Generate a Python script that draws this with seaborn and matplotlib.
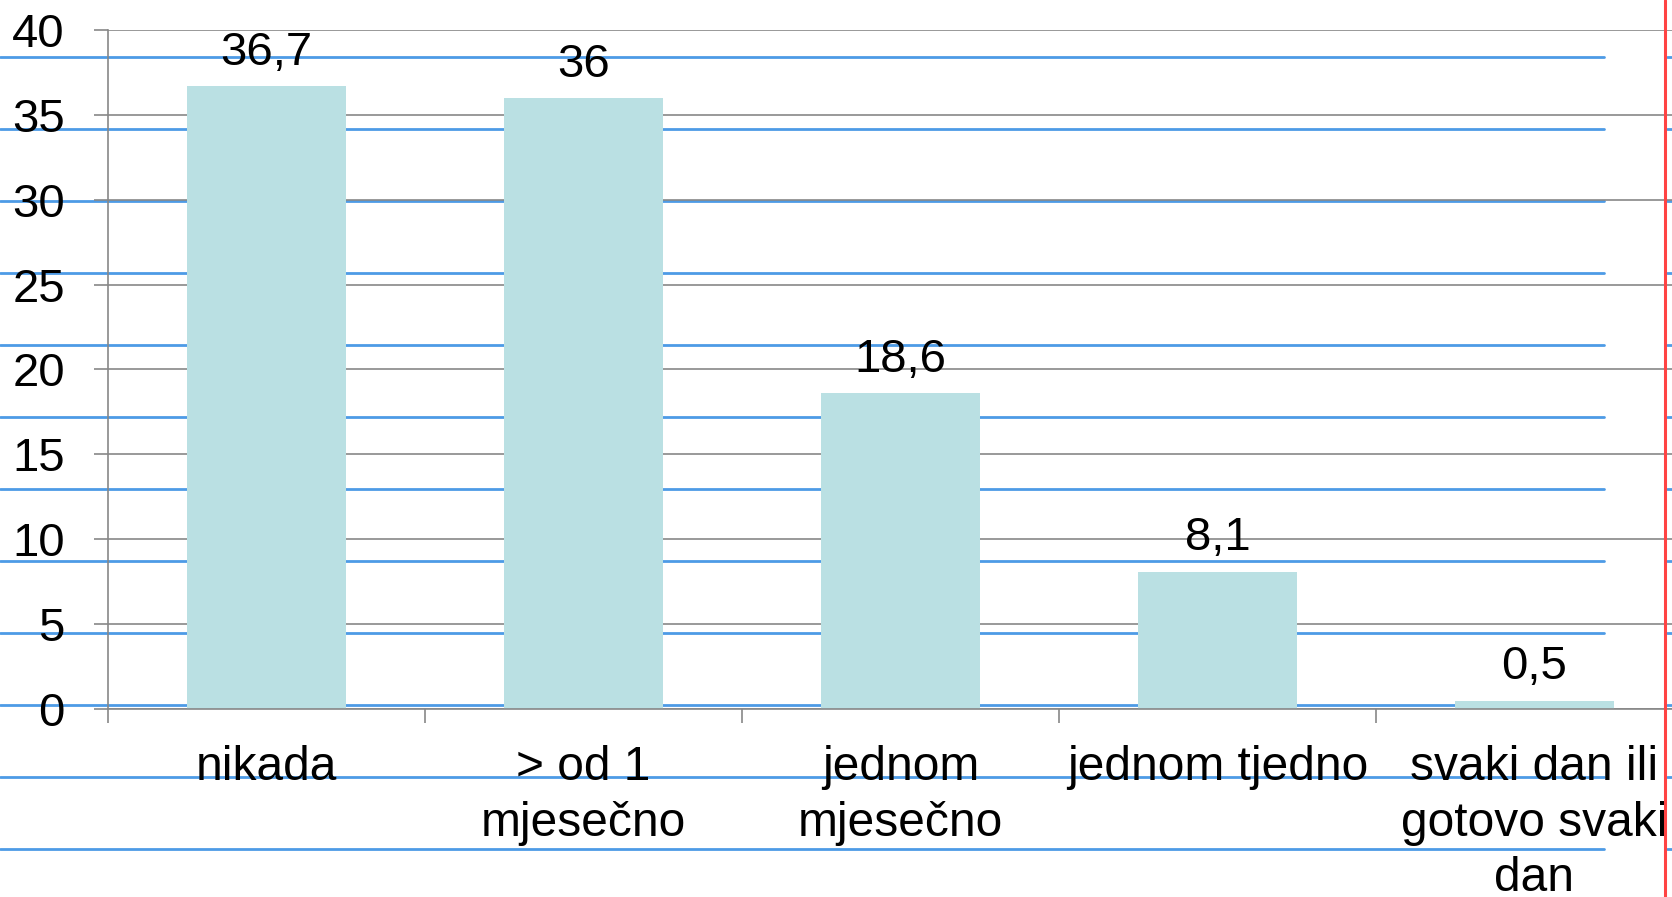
import matplotlib
matplotlib.use("Agg")
import matplotlib.pyplot as plt
import seaborn as sns
import pandas as pd
from matplotlib.lines import Line2D

# podaci
kategorije = ['nikada', '> od 1\nmjesečno', 'jednom\nmjesečno', 'jednom tjedno',
              'svaki dan ili\ngotovo svaki\ndan']
postotci = [36.7, 36, 18.6, 8.1, 0.5]
y_ticks = [0, 5, 10, 15, 20, 25, 30, 35, 40]

df = pd.DataFrame({'kategorija': kategorije, 'postotak': postotci})

sns.set_style("white")
plt.rcParams['font.family'] = ['Liberation Sans', 'DejaVu Sans']

# boje
bar_color = '#bae0e3'
grid_color = '#878787'
blue = '#4d9be6'
red = '#ff4343'

W, H = 1672, 897
fig = plt.figure(figsize=(W / 100, H / 100), dpi=100)
fig.patch.set_facecolor('white')

# "bilježnica" - plave linije i crvena margina u pozadini
for k in range(12):
    y = 1 - (57 + 72 * k) / H
    fig.add_artist(Line2D([0, 1604 / W], [y, y], color=blue, lw=2.0, zorder=-1,
                          transform=fig.transFigure))
    fig.add_artist(Line2D([1667 / W, 1], [y, y], color=blue, lw=2.0, zorder=-1,
                          transform=fig.transFigure))
fig.add_artist(Line2D([1664.5 / W, 1664.5 / W], [0, 1], color=red, lw=2.2, zorder=5,
                      transform=fig.transFigure))

ax = fig.add_axes([108 / W, 1 - 709 / H, (1693 - 108) / W, (709 - 30) / H])
ax.set_facecolor('none')

sns.barplot(data=df, x='kategorija', y='postotak', color=bar_color, saturation=1,
            width=0.5, linewidth=0, ax=ax)

ax.set_xlim(-0.5, len(kategorije) - 0.5)
ax.set_ylim(0, 40)
ax.set_yticks(y_ticks)
ax.set_xlabel('')
ax.set_ylabel('')

# mreža
ax.set_axisbelow(True)
ax.yaxis.grid(True, color=grid_color, linewidth=1.2)
ax.xaxis.grid(False)

for s in ['top', 'right']:
    ax.spines[s].set_visible(False)
for s in ['left', 'bottom']:
    ax.spines[s].set_color(grid_color)
    ax.spines[s].set_linewidth(1.2)

ax.tick_params(axis='y', length=10, width=1.2, color=grid_color, pad=21,
               labelsize=34, labelcolor='black', left=True)
ax.set_xticks([i - 0.5 for i in range(len(kategorije) + 1)], minor=True)
ax.tick_params(axis='x', which='minor', length=10, width=1.2, color=grid_color, bottom=True)
ax.tick_params(axis='x', which='major', length=0, pad=26, labelsize=34.5, labelcolor='black')
for t in ax.get_xticklabels():
    t.set_linespacing(1.3)

# oznake vrijednosti
oznake = [f'{v:g}'.replace('.', ',') for v in postotci]
ax.bar_label(ax.containers[0], labels=oznake, padding=8, fontsize=34, color='black')

fig.savefig('out.png', dpi=100, facecolor='white')
